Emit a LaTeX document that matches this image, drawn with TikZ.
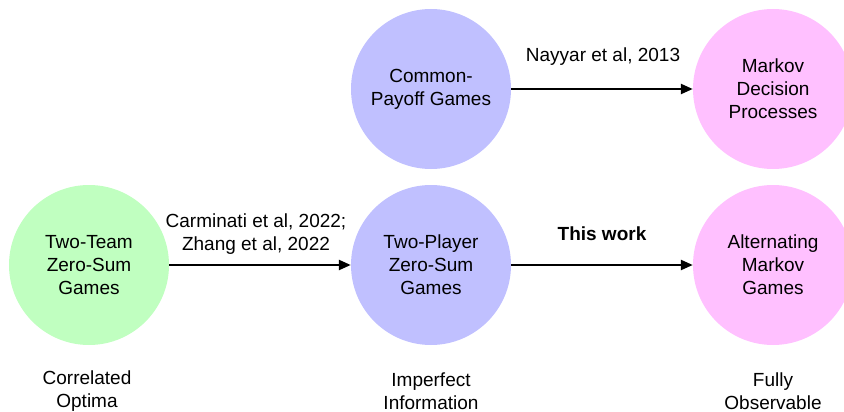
\documentclass[tikz,border=0pt]{standalone}
\usepackage{fontspec}
\setmainfont{Liberation Sans}
\usetikzlibrary{arrows.meta}
\definecolor{cgreen}{RGB}{192,255,192}
\definecolor{cblue}{RGB}{192,192,255}
\definecolor{cpink}{RGB}{255,192,255}
\begin{document}
\begin{tikzpicture}[x=1pt,y=-1pt,
  game/.style={circle,minimum size=160pt,inner sep=0pt,draw=none,align=center,
    font=\fontsize{19}{23}\selectfont},
  lbl/.style={align=center,font=\fontsize{19}{23}\selectfont},
  conn/.style={line width=2.3pt,-{Triangle[length=12pt,width=10pt]}}]
\useasboundingbox (0,0) rectangle (844,412);
\node[game,fill=cblue] (cp) at (431,89) {Common-\\Payoff Games};
\node[game,fill=cpink] (mdp) at (773,89) {Markov\\Decision\\Processes};
\node[game,fill=cgreen] (tt) at (89,265) {Two-Team\\Zero-Sum\\Games};
\node[game,fill=cblue] (tp) at (431,265) {Two-Player\\Zero-Sum\\Games};
\node[game,fill=cpink] (amg) at (773,265) {Alternating\\Markov\\Games};
\draw[conn] (cp) -- (mdp);
\draw[conn] (tt) -- (tp);
\draw[conn] (tp) -- (amg);
\node[lbl] (l1) at (603,57) {Nayyar et al, 2013};
\node[lbl] (l2) at (256,234) {Carminati et al, 2022;\\Zhang et al, 2022};
\node[lbl,font=\fontsize{19}{23}\selectfont\bfseries] (l3) at (602,234) {This work};
\node[lbl] (b1) at (87,391) {Correlated\\Optima};
\node[lbl] (b2) at (431,391) {Imperfect\\Information};
\node[lbl] (b3) at (773,391) {Fully\\Observable};
\end{tikzpicture}
\end{document}
